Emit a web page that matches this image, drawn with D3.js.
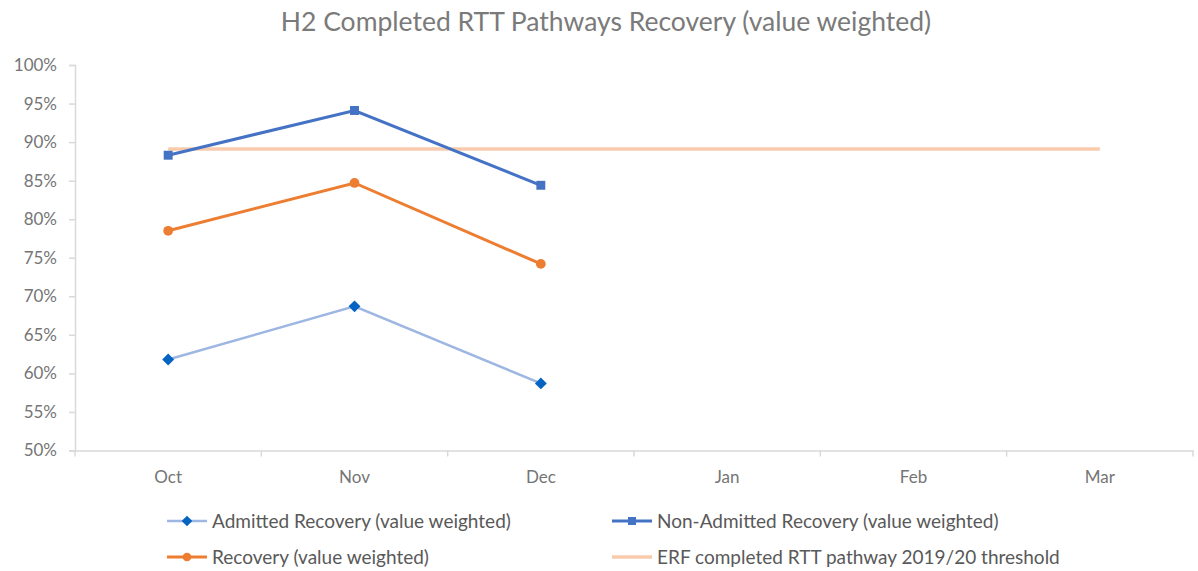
<!DOCTYPE html>
<html>
<head>
<meta charset="utf-8">
<script src="https://cdn.jsdelivr.net/npm/d3@7"></script>
<style>
  body { margin: 0; background: #fff; }
  text { font-family: Lato, "Open Sans", sans-serif; fill: #595959; }
</style>
</head>
<body>
<svg id="chart" width="1198" height="571"></svg>
<script>
// chart data
var months = ["Oct", "Nov", "Dec", "Jan", "Feb", "Mar"];
var admitted = [0.618, 0.687, 0.587];
var nonAdmitted = [0.883, 0.941, 0.844];
var recovery = [0.785, 0.847, 0.742];
var threshold = [0.891, 0.891, 0.891, 0.891, 0.891, 0.891];
var yTicks = [0.5, 0.55, 0.6, 0.65, 0.7, 0.75, 0.8, 0.85, 0.9, 0.95, 1.0];

var svg = d3.select("#chart");
var margin = {top: 65, left: 75, right: 5};
var width = 1198 - margin.left - margin.right;
var height = 450.5 - margin.top;

var chartGroup = svg.append("g")
  .attr("transform", `translate(${margin.left}, ${margin.top})`);

// title
svg.append("text")
  .attr("x", 606)
  .attr("y", 31)
  .attr("text-anchor", "middle")
  .style("font-size", "26.5px")
  .style("fill", "#7a7a7a")
  .text("H2 Completed RTT Pathways Recovery (value weighted)");

// scales
var xScale = d3.scaleBand()
  .domain(months)
  .range([0, width]);

var yScale = d3.scaleLinear()
  .domain([0.5, 1.0])
  .range([height, 0]);

var xPos = (d, i) => xScale(months[i]) + xScale.bandwidth() / 2;

// y axis
var leftAxis = d3.axisLeft(yScale)
  .tickValues(yTicks)
  .tickFormat(d3.format(".0%"))
  .tickSize(6)
  .tickPadding(12);

var yAxis = chartGroup.append("g").call(leftAxis);
yAxis.select(".domain").attr("stroke", "#d9d9d9").attr("stroke-width", 1.5);
yAxis.selectAll(".tick line").attr("stroke", "#d9d9d9").attr("stroke-width", 1.5);
yAxis.selectAll(".tick text").style("font-size", "17px").style("fill", "#757575");

// x axis, ticks between categories
var xAxis = chartGroup.append("g")
  .attr("transform", `translate(0, ${height})`)
  .call(d3.axisBottom(xScale).tickSize(0).tickPadding(20));
xAxis.select(".domain").attr("stroke", "#d9d9d9").attr("stroke-width", 1.5);
xAxis.selectAll(".tick text").style("font-size", "17px").style("fill", "#757575");

var bounds = months.map(m => xScale(m)).concat([width]);
xAxis.selectAll("line.sep")
  .data(bounds)
  .enter()
  .append("line")
  .attr("class", "sep")
  .attr("x1", d => d).attr("x2", d => d)
  .attr("y1", 0).attr("y2", 6)
  .attr("stroke", "#d9d9d9")
  .attr("stroke-width", 1.5);

var line = d3.line()
  .x(xPos)
  .y(d => yScale(d));

// series definitions
var series = [
  {name: "Admitted Recovery (value weighted)", values: admitted, color: "#9db6e2", marker: "#0563c1", symbol: d3.symbolDiamond2, size: 90, width: 2.5},
  {name: "Non-Admitted Recovery (value weighted)", values: nonAdmitted, color: "#4472c4", marker: "#4472c4", symbol: d3.symbolSquare, size: 80, width: 3},
  {name: "Recovery (value weighted)", values: recovery, color: "#ed7d31", marker: "#ed7d31", symbol: d3.symbolCircle, size: 75, width: 3},
  {name: "ERF completed RTT pathway 2019/20 threshold", values: threshold, color: "#f8cbad", marker: null, width: 3.5}
];

// threshold drawn first
chartGroup.append("path")
  .datum(threshold)
  .attr("d", line)
  .attr("fill", "none")
  .attr("stroke", "#f8cbad")
  .attr("stroke-width", 3.5);

series.slice(0, 3).forEach(function(s) {
  chartGroup.append("path")
    .datum(s.values)
    .attr("d", line)
    .attr("fill", "none")
    .attr("stroke", s.color)
    .attr("stroke-width", s.width);

  chartGroup.selectAll(null)
    .data(s.values)
    .enter()
    .append("path")
    .attr("d", d3.symbol().type(s.symbol).size(s.size))
    .attr("transform", (d, i) => `translate(${xPos(d, i)}, ${yScale(d)})`)
    .attr("fill", s.marker);
});

// legend
var legendPos = [
  {x: 167, y: 521}, {x: 612, y: 521},
  {x: 167, y: 557}, {x: 612, y: 557}
];
series.forEach(function(s, i) {
  var g = svg.append("g")
    .attr("transform", `translate(${legendPos[i].x}, ${legendPos[i].y})`);
  g.append("line")
    .attr("x1", 0).attr("x2", 40)
    .attr("y1", 0).attr("y2", 0)
    .attr("stroke", s.color)
    .attr("stroke-width", s.width);
  if (s.marker) {
    g.append("path")
      .attr("d", d3.symbol().type(s.symbol).size(s.size * 0.8))
      .attr("transform", "translate(20, 0)")
      .attr("fill", s.marker);
  }
  g.append("text")
    .attr("x", 45)
    .attr("y", 6.5)
    .style("font-size", "19px")
    .text(s.name);
});
</script>
</body>
</html>
